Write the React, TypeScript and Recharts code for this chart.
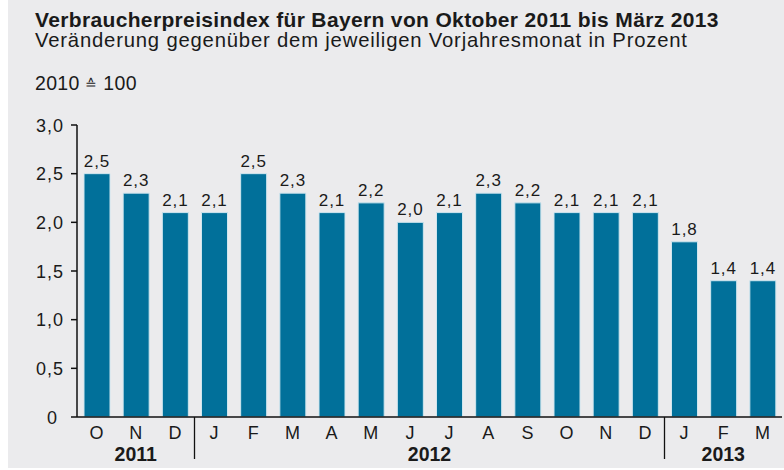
import React from "react";
import { BarChart, Bar, XAxis, YAxis, LabelList } from "recharts";

// Verbraucherpreisindex Bayern, Veränderung ggü. Vorjahresmonat in %
const months = ["O", "N", "D", "J", "F", "M", "A", "M", "J", "J", "A", "S", "O", "N", "D", "J", "F", "M"];
const values = [2.5, 2.3, 2.1, 2.1, 2.5, 2.3, 2.1, 2.2, 2.0, 2.1, 2.3, 2.2, 2.1, 2.1, 2.1, 1.8, 1.4, 1.4];
const years = [
  { label: "2011", from: 0, to: 2 },
  { label: "2012", from: 3, to: 14 },
  { label: "2013", from: 15, to: 17 },
];
const yTicks = [0, 0.5, 1, 1.5, 2, 2.5, 3];

const data = months.map((m, i) => ({ name: m, idx: i, value: values[i] }));

const FONT = "'Liberation Sans', Arial, Helvetica, sans-serif";
const TEXT = "#1a1a1a";
const BAR = "#01709a";

const W = 784;
const H = 470;
const MARGIN = { top: 125, right: 2, left: 0, bottom: 23 };
const Y_AXIS_W = 77;
const BAND = (W - MARGIN.left - MARGIN.right - Y_AXIS_W) / months.length;

const fmt = (v: number) => (v === 0 ? "0" : v.toFixed(1).replace(".", ","));

const MonthTick = ({ x, y, payload, index }: any) => {
  const year = years.find((yr) => yr.from === index);
  return (
    <g>
      <text
        x={x + 0.3}
        y={y + 14}
        textAnchor="middle"
        fontSize={18}
        letterSpacing={0.6}
        fill={TEXT}
        fontFamily={FONT}
      >
        {months[payload.value]}
      </text>
      {year && year.from > 0 && (
        <line x1={x - BAND / 2} x2={x - BAND / 2} y1={y - 8} y2={y + 34} stroke="#111" strokeWidth={1.3} />
      )}
      {year && (
        <text
          x={x + ((year.to - year.from) / 2) * BAND}
          y={y + 35.5}
          textAnchor="middle"
          fontSize={19.5}
          fontWeight="bold"
          fill={TEXT}
          fontFamily={FONT}
        >
          {year.label}
        </text>
      )}
    </g>
  );
};

const ValueTick = ({ x, y, payload }: any) => (
  <text
    x={(payload.value === 0 ? x - 6 : x) + 1}
    y={y + 6.5}
    textAnchor="end"
    fontSize={18}
    letterSpacing={1}
    fill={TEXT}
    fontFamily={FONT}
  >
    {fmt(payload.value)}
  </text>
);

export default function App() {
  return (
    <div style={{ position: "relative", width: W, height: H, fontFamily: FONT }}>
      <style>{"body{margin:0}"}</style>
      <div style={{ position: "absolute", left: 8, top: 0, width: W - 8, height: 468, background: "#ebebed" }} />
      <svg width={W} height={110} style={{ position: "absolute", left: 0, top: 0 }}>
        <text x={35} y={26.7} fontSize={21} fontWeight="bold" letterSpacing={0.35} fill={TEXT} fontFamily={FONT}>
          Verbraucherpreisindex für Bayern von Oktober 2011 bis März 2013
        </text>
        <text x={35} y={46.7} fontSize={20.3} letterSpacing={0.8} fill={TEXT} fontFamily={FONT}>
          Veränderung gegenüber dem jeweiligen Vorjahresmonat in Prozent
        </text>
        <text x={35} y={90} fontSize={19.5} letterSpacing={0.3} fill={TEXT} fontFamily={FONT}>
          2010 <tspan fontSize={14} dy={-1}>≙</tspan>
          <tspan dy={1}> 100</tspan>
        </text>
      </svg>
      <div style={{ position: "absolute", left: 0, top: 0 }}>
        <BarChart width={W} height={H} data={data} margin={MARGIN}>
          <XAxis
            dataKey="idx"
            axisLine={{ stroke: "#111", strokeWidth: 1.5 }}
            tickLine={false}
            tick={<MonthTick />}
            interval={0}
            height={30}
          />
          <YAxis
            domain={[0, 3]}
            ticks={yTicks}
            width={Y_AXIS_W}
            axisLine={{ stroke: "#111", strokeWidth: 1.5 }}
            tickLine={{ stroke: "#111", strokeWidth: 1.5 }}
            tickSize={6}
            tickMargin={8}
            tick={<ValueTick />}
          />
          <Bar dataKey="value" fill={BAR} stroke="#cfe6ef" strokeWidth={1} barSize={26} isAnimationActive={false}>
            <LabelList
              dataKey="value"
              position="top"
              offset={7}
              formatter={(v: any) => fmt(Number(v))}
              style={{ fontSize: 17, fill: TEXT, fontFamily: FONT, letterSpacing: 0.9 }}
            />
          </Bar>
        </BarChart>
      </div>
    </div>
  );
}
